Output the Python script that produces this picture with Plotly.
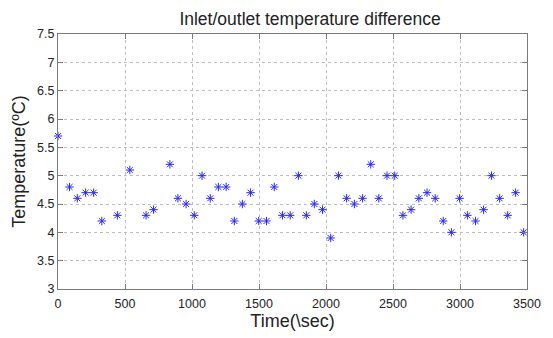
import plotly.graph_objects as go

time_s = [0, 86, 144, 206, 266, 327, 443, 536, 657, 713, 835, 895, 956, 1017, 1075,
          1136, 1197, 1255, 1316, 1376, 1437, 1498, 1556, 1614, 1675, 1733, 1794, 1853,
          1913, 1974, 2035, 2093, 2154, 2212, 2273, 2334, 2394, 2455, 2513, 2574, 2635,
          2693, 2754, 2815, 2875, 2936, 2997, 3055, 3116, 3176, 3235, 3296, 3356, 3415, 3475]
temp_diff = [5.7, 4.8, 4.6, 4.7, 4.7, 4.2, 4.3, 5.1, 4.3, 4.4, 5.2, 4.6, 4.5, 4.3, 5.0,
             4.6, 4.8, 4.8, 4.2, 4.5, 4.7, 4.2, 4.2, 4.8, 4.3, 4.3, 5.0, 4.3, 4.5, 4.4,
             3.9, 5.0, 4.6, 4.5, 4.6, 5.2, 4.6, 5.0, 5.0, 4.3, 4.4, 4.6, 4.7, 4.6, 4.2,
             4.0, 4.6, 4.3, 4.2, 4.4, 5.0, 4.6, 4.3, 4.7, 4.0]
x_ticks = [0, 500, 1000, 1500, 2000, 2500, 3000, 3500]
y_ticks = [3, 3.5, 4, 4.5, 5, 5.5, 6, 6.5, 7, 7.5]
y_tick_labels = ["3", "3.5", "4", "4.5", "5", "5.5", "6", "6.5", "7", "7.5"]

fig = go.Figure()
fig.add_trace(go.Scatter(
    x=time_s, y=temp_diff, mode="markers",
    marker=dict(symbol="asterisk-open", size=7, color="#2a2aee",
                line=dict(color="#2a2aee", width=1)),
    showlegend=False, cliponaxis=False,
))

font_family = "Liberation Sans, Arial, sans-serif"
axis_common = dict(
    showline=True, linecolor="#7a7a7a", linewidth=1, mirror="ticks",
    ticks="inside", ticklen=5, tickcolor="#7a7a7a",
    showgrid=True, gridcolor="#bdbdbd", griddash="dot", gridwidth=1,
    zeroline=False, tickfont=dict(family=font_family, size=12.5, color="#222"),
)

fig.update_layout(
    width=553, height=338,
    margin=dict(l=57.5, r=15.5, t=34, b=43),
    paper_bgcolor="white", plot_bgcolor="white",
    font=dict(family=font_family, color="#222"),
    title=dict(text="Inlet/outlet temperature difference", x=0.5375, xref="paper",
               xanchor="center", y=1 - 19 / 338, yref="container", yanchor="middle",
               font=dict(family=font_family, size=17.5, color="#222")),
    xaxis=dict(range=[0, 3500], tickvals=x_ticks, ticklabelstandoff=3,
               title=dict(text="Time(\\sec)",
                          font=dict(family=font_family, size=18, color="#222"), standoff=2),
               **axis_common),
    yaxis=dict(range=[3, 7.5], tickvals=y_ticks, ticktext=y_tick_labels,
               title=dict(text="Temperature(ºC)",
                          font=dict(family=font_family, size=18, color="#222"), standoff=6),
               **axis_common),
)

fig.write_html("out.html")
